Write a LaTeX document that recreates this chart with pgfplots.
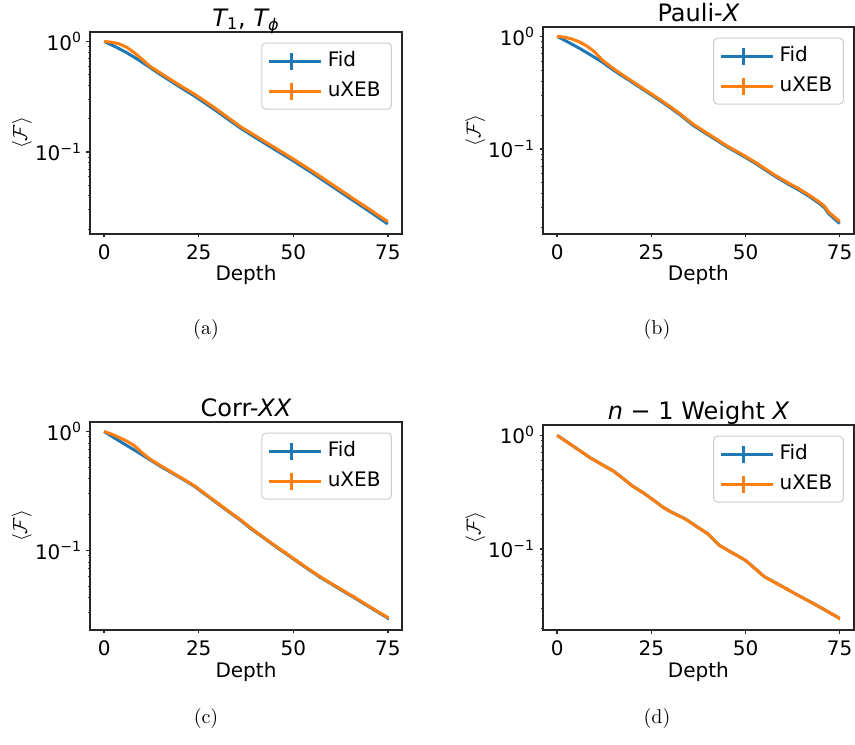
\documentclass[border=0pt]{standalone}
\usepackage{fontspec}
\usepackage{pgfplots}
\pgfplotsset{compat=1.18}
\newfontfamily\dv{DejaVu Sans}
\definecolor{tblue}{HTML}{1F77B4}
\definecolor{torange}{HTML}{FF7F0E}
\pgfplotsset{
  myleg/.style={legend image code/.code={\path (0pt,0pt) -- (26pt,0pt); \draw[##1] (0pt,0pt) -- (22pt,0pt); \draw[##1] (11pt,-4.25pt) -- (11pt,4.25pt);}},
  ebar/.style={error bars/.cd, y dir=both, y explicit, error mark=none, error bar style={line width=0.8pt}},
  myax/.style={
    scale only axis, anchor=south west,
    xmin=-3.75, xmax=78.75,
    xtick={0,25,50,75}, xticklabels={0,25,50,75},
    ytick={0.1,1}, yticklabels={10\textsuperscript{−1},10\textsuperscript{0}},
    minor ytick={0.02,0.03,0.04,0.05,0.06,0.07,0.08,0.09,0.2,0.3,0.4,0.5,0.6,0.7,0.8,0.9},
    tick align=outside, xtick pos=bottom, ytick pos=left,
    major tick length=1.75pt, minor tick length=1.2pt,
    every major tick/.style={black!85, line width=0.7pt},
    every minor tick/.style={black!75, line width=0.5pt},
    axis line style={black!85, line width=0.8pt},
    tick label style={font=\dv\fontsize{10}{12}\selectfont},
    yticklabel style={inner xsep=2pt},
    xlabel=Depth, ylabel={$\langle\mathcal{F}\rangle$},
    xlabel style={font=\dv\fontsize{10}{12}\selectfont, at={(axis description cs:0.5,0)}, anchor=base, yshift=-23.5pt},
    ylabel style={font=\fontsize{10}{12}\selectfont, at={(axis description cs:-0.218,0.5)}, anchor=center},
    every axis title shift=0pt,
    title style={font=\dv\fontsize{12}{14}\selectfont, at={(rel axis cs:0.5,1)}, anchor=base, yshift=2.8pt},
    legend style={at={(axis description cs:1,1)}, anchor=north east, xshift=-5pt, yshift=-5.3pt,
      draw=black!20, line width=0.5pt, rounded corners=2pt, fill=white, fill opacity=0.8, text opacity=1,
      font=\dv\fontsize{10}{12}\selectfont, inner xsep=3pt, inner ysep=1.5pt, row sep=0pt,
      nodes={inner sep=2.5pt, text height=7.6pt, text depth=2.4pt}},
    legend cell align=left,
    myleg,
    every axis plot/.append style={line width=1.5pt},
  }
}
\begin{document}
\begin{tikzpicture}
\useasboundingbox (0,0) rectangle (427.5pt,372pt);
% (a)
\begin{axis}[myax, ymode=log, at={(45pt,255pt)}, width=156pt, height=101pt, ymin=0.0181, ymax=1.219,
  title={{\itshape T}\textsubscript{1}, {\itshape T}\textsubscript{\itshape ϕ}}]
\addplot[tblue] coordinates {(0,1.000) (3,0.895) (6,0.791) (9,0.684) (12,0.585) (15,0.499) (18,0.429) (21,0.369) (24,0.319) (27,0.272) (30,0.231) (33,0.195) (36,0.165) (40,0.135) (45,0.106) (50,0.0832) (55,0.0646) (60,0.0496) (65,0.0380) (70,0.0292) (75,0.0223)};
\addlegendentry{Fid}
\addplot[torange] coordinates {(0,1.000) (2,0.985) (4,0.952) (6,0.885) (8,0.790) (10,0.692) (12,0.600) (15,0.515) (18,0.443) (21,0.382) (24,0.332) (27,0.283) (30,0.240) (33,0.202) (36,0.170) (40,0.140) (45,0.110) (50,0.0865) (55,0.0672) (60,0.0516) (65,0.0396) (70,0.0305) (75,0.0234)};
\addlegendentry{uXEB}
\end{axis}
% (b)
\begin{axis}[myax, ymode=log, at={(271.5pt,255pt)}, width=155.4pt, height=103.5pt, ymin=0.0176, ymax=1.21,
  title={Pauli-{\itshape X}}]
\addplot[tblue] coordinates {(0,1.000) (3,0.885) (6,0.780) (9,0.680) (12,0.590) (15,0.500) (18,0.430) (21,0.370) (24,0.318) (27,0.273) (30,0.233) (33,0.197) (36,0.163) (40,0.134) (45,0.105) (50,0.0842) (53,0.0732) (56,0.0628) (58,0.0568) (61,0.0495) (64,0.0436) (67,0.0378) (69.5,0.0330) (71,0.0300) (72,0.0268) (73,0.0250) (75,0.0218)};
\addlegendentry{Fid}
\addplot[torange] coordinates {(0,1.000) (2,0.982) (4,0.945) (6,0.890) (8,0.815) (10,0.725) (12,0.615) (15,0.515) (18,0.440) (21,0.378) (24,0.325) (27,0.279) (30,0.238) (33,0.201) (36,0.167) (40,0.137) (45,0.107) (50,0.0860) (53,0.0748) (56,0.0642) (58,0.0581) (61,0.0507) (64,0.0447) (67,0.0388) (69.5,0.0340) (71,0.0310) (72,0.0277) (73,0.0259) (75,0.0228)};
\addlegendentry{uXEB}
\end{axis}
% (c)
\begin{axis}[myax, ymode=log, at={(45pt,57pt)}, width=156pt, height=104pt, ymin=0.0215, ymax=1.202,
  title={Corr-{\itshape XX}}]
\addplot[tblue, ebar] coordinates {(0,1.000) (3,0.871) (6,0.762) (9,0.668) (12,0.582) (15,0.507) (18,0.447) (21,0.394) (24,0.344) (27,0.292) (30,0.248) (33,0.211) (36,0.180) (39,0.151) (42,0.129) (45,0.110) (48,0.0944) +- (0,0.0028) (51,0.0809) +- (0,0.0024) (54,0.0695) +- (0,0.0021) (57,0.0600) +- (0,0.0018) (60,0.0525) +- (0,0.0016) (63,0.0460) +- (0,0.0014) (66,0.0404) +- (0,0.0012) (69,0.0353) +- (0,0.0011) (72,0.0309) +- (0,0.0010) (75,0.0271) +- (0,0.0009)};
\addlegendentry{Fid}
\addplot[torange, ebar] coordinates {(0,1.000) (2,0.950) (4,0.890) (6,0.830) (8,0.760) (10,0.665) (12,0.590) (15,0.515) (18,0.452) (21,0.398) (24,0.348) (27,0.295) (30,0.251) (33,0.213) (36,0.182) (39,0.153) (42,0.130) (45,0.111) (48,0.0953) +- (0,0.0029) (51,0.0817) +- (0,0.0025) (54,0.0702) +- (0,0.0021) (57,0.0606) +- (0,0.0018) (60,0.0530) +- (0,0.0016) (63,0.0465) +- (0,0.0014) (66,0.0408) +- (0,0.0012) (69,0.0357) +- (0,0.0011) (72,0.0312) +- (0,0.0010) (75,0.0274) +- (0,0.0009)};
\addlegendentry{uXEB}
\end{axis}
% (d)
\begin{axis}[myax, ymode=log, at={(271.5pt,57pt)}, width=155.4pt, height=102.5pt, ymin=0.0194, ymax=1.232,
  title={{\itshape n} − 1 Weight {\itshape X}}]
\addplot[tblue, ebar] coordinates {(0,1.000) (3,0.857) (6,0.734) (9,0.627) (12,0.551) (15,0.483) (18,0.405) (20,0.358) (23,0.310) (26,0.263) (28,0.234) (30,0.214) (34,0.184) (37,0.158) (40,0.136) (43,0.108) (46,0.0946) (50,0.0795) +- (0,0.0028) (53,0.0652) +- (0,0.0023) (55,0.0571) +- (0,0.0020) (58,0.0504) +- (0,0.0018) (61,0.0444) +- (0,0.0016) (64,0.0391) +- (0,0.0014) (67,0.0346) +- (0,0.0012) (70,0.0305) +- (0,0.0011) (73,0.0268) +- (0,0.00095) (75,0.0245) +- (0,0.00087)};
\addlegendentry{Fid}
\addplot[torange, ebar] coordinates {(0,1.000) (3,0.857) (6,0.734) (9,0.627) (12,0.551) (15,0.483) (18,0.405) (20,0.358) (23,0.310) (26,0.263) (28,0.234) (30,0.214) (34,0.184) (37,0.158) (40,0.136) (43,0.108) (46,0.0946) (50,0.0795) +- (0,0.0028) (53,0.0652) +- (0,0.0023) (55,0.0571) +- (0,0.0020) (58,0.0504) +- (0,0.0018) (61,0.0444) +- (0,0.0016) (64,0.0391) +- (0,0.0014) (67,0.0346) +- (0,0.0012) (70,0.0305) +- (0,0.0011) (73,0.0268) +- (0,0.00095) (75,0.0245) +- (0,0.00087)};
\addlegendentry{uXEB}
\end{axis}
\node[font=\fontsize{10}{12}\selectfont, anchor=base] at (103pt,204.5pt) {(a)};
\node[font=\fontsize{10}{12}\selectfont, anchor=base] at (328.5pt,204.5pt) {(b)};
\node[font=\fontsize{10}{12}\selectfont, anchor=base] at (103pt,10.5pt) {(c)};
\node[font=\fontsize{10}{12}\selectfont, anchor=base] at (328.5pt,10.5pt) {(d)};
\end{tikzpicture}
\end{document}
